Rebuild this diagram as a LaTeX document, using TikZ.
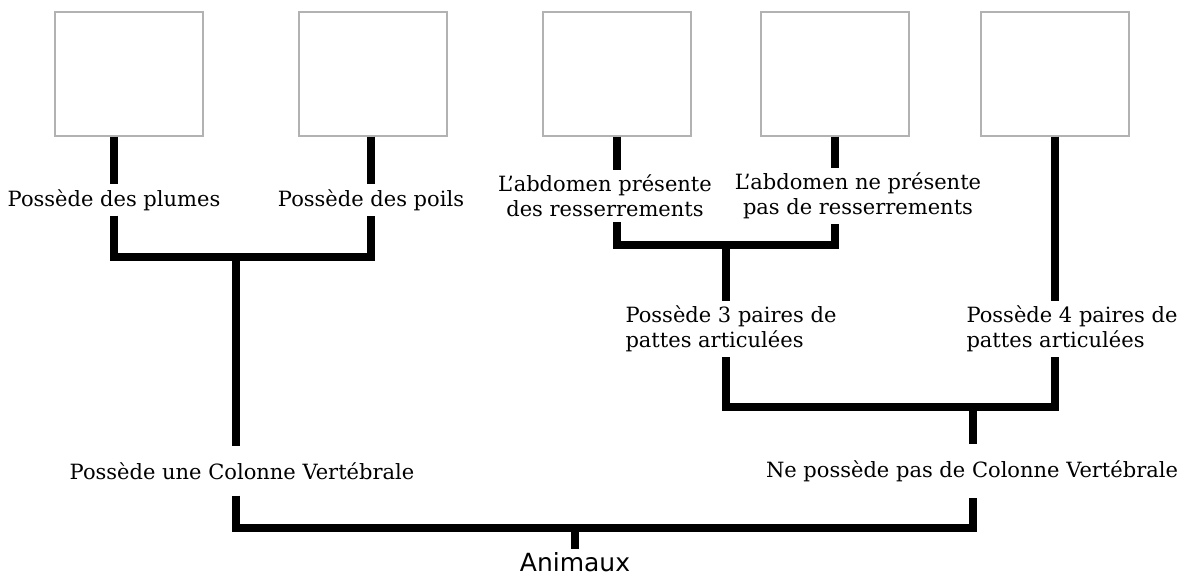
\documentclass[tikz,border=0pt]{standalone}
\usepackage{fontspec}
\setmainfont{DejaVu Serif}
\newfontfamily\rootfont{DejaVu Sans}
\usetikzlibrary{positioning}

\begin{document}
\begin{tikzpicture}[
  x=1pt, y=-1pt,
  taxon/.style={rectangle, draw=black!30, line width=1.2pt,
    minimum width=148pt, minimum height=124pt},
  trait/.style={align=left, inner sep=0pt, outer ysep=5pt,
    font=\fontsize{21}{25}\selectfont},
  branch/.style={line width=7.5pt, line cap=butt, line join=miter}
]
  \useasboundingbox (0,0) rectangle (1188,576);

  % empty boxes on top
  \node[taxon] (b1) at (129,74) {};
  \node[taxon] (b2) at (373,74) {};
  \node[taxon] (b3) at (617,74) {};
  \node[taxon] (b4) at (835,74) {};
  \node[taxon] (b5) at (1055,74) {};

  % characters
  \node[trait] (plumes) at (114,200) {Possède des plumes};
  \node[trait] (poils) at (371,200) {Possède des poils};
  \node[trait, align=center] (abd1) at (605,196) {L'abdomen présente\\des resserrements};
  \node[trait, align=center] (abd2) at (858,196) {L'abdomen ne présente\\pas de resserrements};
  \node[trait] (p3) at (731,329) {Possède 3 paires de\\pattes articulées};
  \node[trait] (p4) at (1072,329) {Possède 4 paires de\\pattes articulées};
  \node[trait, outer ysep=16pt] (vert) at (242,471) {Possède une Colonne Vertébrale};
  \node[trait, outer ysep=16pt] (novert) at (972,471) {Ne possède pas de Colonne Vertébrale};
  \node[trait, font=\rootfont\fontsize{25}{30}\selectfont, outer ysep=3pt] (anim) at (575,562) {Animaux};

  \coordinate (jv) at (236,257);
  \coordinate (ji) at (726,245);
  \coordinate (ja) at (973,407);
  \coordinate (jr) at (575,528);

  % vertebrates
  \draw[branch] (b1.south -| plumes) -- (plumes.north);
  \draw[branch] (b2.south -| poils) -- (poils.north);
  \draw[branch] (plumes.south) |- (jv) -| (poils.south);
  \draw[branch] (jv) -- (jv |- vert.north);

  % arthropods
  \draw[branch] (b3.south) -- (b3.south |- abd1.north);
  \draw[branch] (b4.south) -- (b4.south |- abd2.north);
  \draw[branch] (b3.south |- abd1.south) |- (ji) -| (b4.south |- abd2.south);
  \draw[branch] (ji) -- (ji |- p3.north);
  \draw[branch] (b5.south) -- (b5.south |- p4.north);
  \draw[branch] (ji |- p3.south) |- (ja) -| (b5.south |- p4.south);
  \draw[branch] (ja) -- (ja |- novert.north);

  % root
  \draw[branch] (jv |- vert.south) |- (jr) -| (ja |- novert.south);
  \draw[branch] (jr) -- (jr |- anim.north);
\end{tikzpicture}
\end{document}
